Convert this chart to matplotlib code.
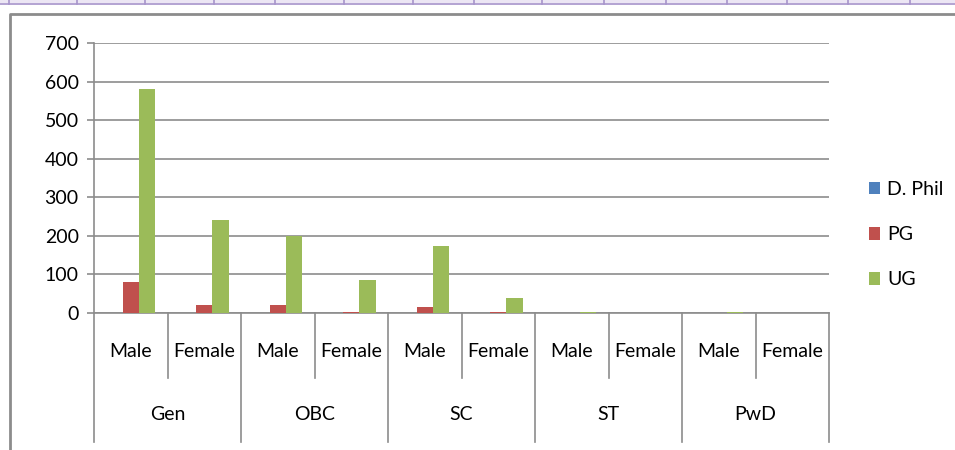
import numpy as np
import matplotlib.pyplot as plt
from matplotlib.lines import Line2D
from matplotlib.patches import Rectangle

plt.rcParams['font.family'] = ['Lato', 'DejaVu Sans']

groups = ["Gen", "OBC", "SC", "ST", "PwD"]
genders = ["Male", "Female"]
series = ["D. Phil", "PG", "UG"]
dphil = [0, 0, 0, 0, 0, 0, 0, 0, 0, 0]
pg = [81, 22, 21, 3, 15, 2, 0, 0, 0, 0]
ug = [580, 240, 200, 85, 175, 40, 2, 0, 2, 0]
colors = ["#4F81BD", "#C0504D", "#9BBB59"]
yticks = [0, 100, 200, 300, 400, 500, 600, 700]
fs = 14

W, H = 955, 450
fig = plt.figure(figsize=(W / 100, H / 100), dpi=100)

# spreadsheet strip and chart frame
fig.patches.append(Rectangle((0, 1 - 3 / H), 1, 3 / H, transform=fig.transFigure,
                             facecolor="#ECE6F4", edgecolor="none"))
fig.lines.append(Line2D([0, 1], [1 - 3.5 / H] * 2, transform=fig.transFigure,
                        color="#A794CB", lw=1.2))
for xv in [9, 77, 145, 214, 275, 344, 413, 474, 542, 604, 666, 727, 787, 848, 910]:
    fig.lines.append(Line2D([xv / W] * 2, [1 - 3.5 / H, 1], transform=fig.transFigure,
                            color="#A794CB", lw=1.2))
fig.lines.append(Line2D([9.5 / W, 9.5 / W, 1], [0, 1 - 14 / H, 1 - 14 / H],
                        transform=fig.transFigure, color="#8C8C8C", lw=2))

ax = fig.add_axes([94 / W, 1 - 313 / H, 735 / W, 270 / H])

x = np.arange(len(ug))
bw = 0.222
for i, (vals, name) in enumerate(zip([dphil, pg, ug], series)):
    ax.bar(x + (i - 1) * bw, vals, bw, color=colors[i], label=name, zorder=3)

ax.set_xlim(-0.5, len(ug) - 0.5)
ax.set_ylim(0, 700)
ax.set_yticks(yticks)
ax.set_yticklabels([str(v) for v in yticks], fontsize=fs)
ax.grid(axis="y", color="#8C8C8C", lw=1.2, zorder=0)
for s in ["top", "right"]:
    ax.spines[s].set_visible(False)
ax.spines["left"].set_color("#8C8C8C")
ax.spines["bottom"].set_color("#8C8C8C")
ax.spines["left"].set_linewidth(1.2)
ax.spines["bottom"].set_linewidth(1.2)
ax.tick_params(axis="y", length=5, color="#8C8C8C", width=1.2, pad=6)
ax.set_xticks([])

# multi-level category axis
trans = ax.get_xaxis_transform()
for k in range(len(ug) + 1):
    b = k - 0.5
    bottom = -0.478 if k % 2 == 0 else -0.241
    ax.add_line(Line2D([b, b], [0, bottom], transform=trans, color="#8C8C8C",
                       lw=1.2, clip_on=False))
for k in range(len(ug)):
    ax.text(k, -0.143, genders[k % 2], transform=trans, ha="center", va="center",
            fontsize=fs)
for g, name in enumerate(groups):
    ax.text(2 * g + 0.5, -0.377, name, transform=trans, ha="center", va="center",
            fontsize=fs)

ax.legend(loc="center left", bbox_to_anchor=(1.03, 0.29), frameon=False,
          fontsize=fs, handlelength=0.6, handleheight=0.6, handletextpad=0.35,
          labelspacing=1.45)

fig.savefig("out.png", dpi=100)
